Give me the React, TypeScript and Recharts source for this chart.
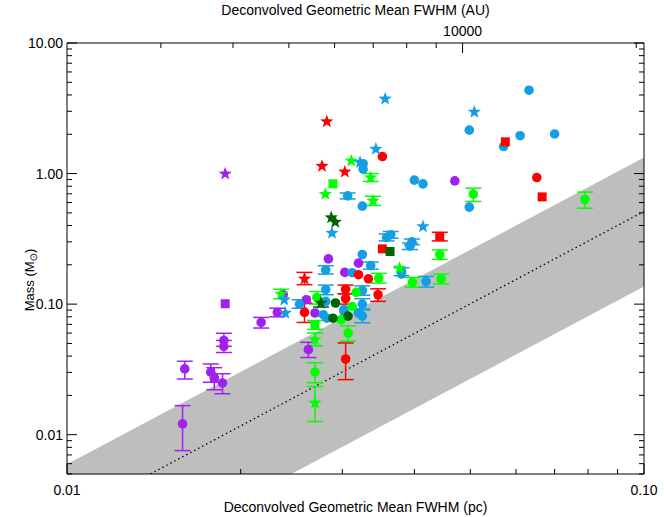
import React from 'react';
import { ComposedChart, Scatter, Area, Line, XAxis, YAxis, ErrorBar } from 'recharts';

// [size (pc), mass (Msun), err low, err high] -- err values are absolute masses, 0 = none
type Pt = [number, number, number?, number?];

const purpleCircles: Pt[] = [
  [0.01586, 0.0121, 0.00755, 0.0167],
  [0.016, 0.0319, 0.0267, 0.0365],
  [0.01775, 0.0301, 0.0252, 0.0348],
  [0.018, 0.0272, 0.0221, 0.0326],
  [0.0186, 0.0249, 0.0206, 0.0293],
  [0.0187, 0.0527, 0.0475, 0.0598],
  [0.0187, 0.0475, 0.0426, 0.0527],
  [0.0217, 0.0724, 0.0656, 0.0791],
  [0.02315, 0.0864, 0.08, 0.093],
  [0.0237, 0.118],
  [0.026, 0.108],
  [0.0262, 0.0448, 0.039, 0.051],
  [0.0269, 0.0855],
  [0.02838, 0.222],
  [0.0303, 0.175],
  [0.032, 0.206],
  [0.047, 0.879],
];
const purpleSquares: Pt[] = [[0.0188, 0.1007]];
const purpleStars: Pt[] = [[0.0188, 0.995]];

const blueCircles: Pt[] = [
  [0.03065, 0.675, 0.64, 0.71],
  [0.0326, 1.19],
  [0.0326, 1.08],
  [0.04, 0.89],
  [0.0414, 0.834],
  [0.0325, 0.563],
  [0.0358, 0.324, 0.305, 0.345],
  [0.0364, 0.34, 0.32, 0.36],
  [0.0396, 0.3, 0.285, 0.315],
  [0.0393, 0.278, 0.262, 0.294],
  [0.0325, 0.24],
  [0.0336, 0.197, 0.185, 0.21],
  [0.0312, 0.174],
  [0.038, 0.178, 0.165, 0.19],
  [0.038, 0.17],
  [0.0419, 0.149, 0.135, 0.163],
  [0.0325, 0.127, 0.117, 0.138],
  [0.0325, 0.1, 0.092, 0.11],
  [0.0302, 0.091],
  [0.032, 0.0855],
  [0.0325, 0.081, 0.072, 0.09],
  [0.02808, 0.183, 0.17, 0.197],
  [0.02808, 0.129, 0.118, 0.14],
  [0.02808, 0.105],
  [0.0253, 0.1, 0.093, 0.108],
  [0.0278, 0.083],
  [0.0282, 0.078],
  [0.0302, 0.088],
  [0.0632, 4.35],
  [0.0498, 2.15],
  [0.0571, 1.61],
  [0.061, 1.95],
  [0.07, 2.01],
  [0.0498, 0.553],
];
const blueStars: Pt[] = [
  [0.0356, 3.73],
  [0.0343, 1.54],
  [0.0322, 1.22],
  [0.0414, 0.393],
  [0.02879, 0.35],
  [0.0508, 2.96],
  [0.0238, 0.108],
  [0.0239, 0.0855],
];

const redCircles: Pt[] = [
  [0.0352, 1.35],
  [0.0333, 0.156],
  [0.032, 0.168],
  [0.0304, 0.13, 0.12, 0.14],
  [0.0304, 0.11, 0.1, 0.12],
  [0.0346, 0.118, 0.105, 0.131],
  [0.0258, 0.0864, 0.0724, 0.102],
  [0.0304, 0.038, 0.0264, 0.0504],
  [0.0652, 0.932],
];
const redSquares: Pt[] = [
  [0.04426, 0.33, 0.305, 0.355],
  [0.0352, 0.265],
  [0.0575, 1.75],
  [0.0666, 0.663],
];
const redStars: Pt[] = [
  [0.0282, 2.5],
  [0.02767, 1.14],
  [0.0303, 1.03],
  [0.0258, 0.156, 0.141, 0.175],
];

const greenCircles: Pt[] = [
  [0.0506, 0.696, 0.611, 0.773],
  [0.079, 0.633, 0.543, 0.721],
  [0.04426, 0.239, 0.22, 0.26],
  [0.0347, 0.158, 0.145, 0.172],
  [0.0397, 0.1476, 0.135, 0.16],
  [0.0445, 0.156, 0.143, 0.17],
  [0.0317, 0.123],
  [0.0312, 0.096],
  [0.0271, 0.1125, 0.1, 0.125],
  [0.0307, 0.06, 0.052, 0.068],
  [0.02985, 0.076],
  [0.0269, 0.0301, 0.025, 0.0356],
];
const greenSquares: Pt[] = [
  [0.0289, 0.834],
  [0.0269, 0.0695, 0.064, 0.075],
];
const greenStars: Pt[] = [
  [0.0311, 1.25],
  [0.02804, 0.695],
  [0.0336, 0.932, 0.87, 1.0],
  [0.0339, 0.618, 0.57, 0.67],
  [0.0377, 0.189],
  [0.0235, 0.1195, 0.11, 0.13],
  [0.0269, 0.0534, 0.048, 0.06],
  [0.0269, 0.0175, 0.0126, 0.0234],
];

const darkGreenStars: Pt[] = [
  [0.0287, 0.46],
  [0.02917, 0.425],
  [0.02755, 0.102, 0.095, 0.11],
];
const darkGreenSquares: Pt[] = [[0.0363, 0.253]];
const darkGreenCircles: Pt[] = [
  [0.0292, 0.102],
  [0.0289, 0.078],
  [0.0307, 0.081],
];

// shaded band and dotted relation, sampled at the x-axis ends
const bandX = [0.01, 0.1];
const bandLow = [0.00061, 0.1365];
const bandHigh = [0.00594, 1.33];
const relation = [0.00229, 0.513];

// ticks
const xTicks = [0.01, 0.02, 0.03, 0.04, 0.05, 0.06, 0.07, 0.08, 0.09, 0.1];
const xMajor = [0.01, 0.1];
const xMajorLabels = ['0.01', '0.10'];
const auTicks = [3000, 4000, 5000, 6000, 7000, 8000, 9000, 10000, 20000];
const auMajor = [10000];
const yTicks = [
  0.005, 0.006, 0.007, 0.008, 0.009,
  0.01, 0.02, 0.03, 0.04, 0.05, 0.06, 0.07, 0.08, 0.09,
  0.1, 0.2, 0.3, 0.4, 0.5, 0.6, 0.7, 0.8, 0.9,
  1, 2, 3, 4, 5, 6, 7, 8, 9, 10,
];
const yMajor = [0.01, 0.1, 1, 10];
const yMajorLabels = ['0.01', '0.10', '1.00', '10.00'];

const AU_IN_PC = 206265;
const FONT = '"Liberation Sans", Arial, sans-serif';
const PURPLE = '#A020F0';
const BLUE = '#149FE4';
const RED = '#FF0000';
const GREEN = '#00FF00';
const DARK_GREEN = '#006400';

const same = (a: number, b: number) => Math.abs(a - b) / b < 1e-6;
const majorIndex = (v: number, list: number[]) => list.findIndex(t => same(v, t));

const rows = (pts: Pt[]) =>
  pts.map(([x, m, lo, hi]) => ({ x, m, err: lo && hi ? [m - lo, hi - m] : undefined }));

const bandData = bandX.map((x, i) => ({ x, band: [bandLow[i], bandHigh[i]], rel: relation[i] }));

const starPath = (cx: number, cy: number, R: number, r: number) => {
  let d = '';
  for (let i = 0; i < 10; i++) {
    const a = (-90 + i * 36) * Math.PI / 180;
    const rad = i % 2 === 0 ? R : r;
    d += (i === 0 ? 'M' : 'L') + (cx + rad * Math.cos(a)).toFixed(2) + ',' + (cy + rad * Math.sin(a)).toFixed(2);
  }
  return d + 'Z';
};

const makeShape = (kind: string, color: string) => (p: any) => {
  const { cx, cy } = p;
  if (kind === 'star') return <path d={starPath(cx, cy, 7, 2.9)} fill={color} />;
  if (kind === 'square') return <rect x={cx - 4.5} y={cy - 4.5} width={9} height={9} fill={color} />;
  return <circle cx={cx} cy={cy} r={4.8} fill={color} />;
};

const groups = [
  { name: 'pc', pts: purpleCircles, kind: 'circle', color: PURPLE },
  { name: 'ps', pts: purpleSquares, kind: 'square', color: PURPLE },
  { name: 'pst', pts: purpleStars, kind: 'star', color: PURPLE },
  { name: 'bc', pts: blueCircles, kind: 'circle', color: BLUE },
  { name: 'gc', pts: greenCircles, kind: 'circle', color: GREEN },
  { name: 'gs', pts: greenSquares, kind: 'square', color: GREEN },
  { name: 'rc', pts: redCircles, kind: 'circle', color: RED },
  { name: 'rs', pts: redSquares, kind: 'square', color: RED },
  { name: 'dgc', pts: darkGreenCircles, kind: 'circle', color: DARK_GREEN },
  { name: 'dgs', pts: darkGreenSquares, kind: 'square', color: DARK_GREEN },
  { name: 'gst', pts: greenStars, kind: 'star', color: GREEN },
  { name: 'bst', pts: blueStars, kind: 'star', color: BLUE },
  { name: 'rst', pts: redStars, kind: 'star', color: RED },
  { name: 'dgst', pts: darkGreenStars, kind: 'star', color: DARK_GREEN },
];

const MAJOR_LEN = 10;
const MINOR_LEN = 5;

const BottomTick = (props: any) => {
  const { x, y, payload } = props;
  const i = majorIndex(payload.value, xMajor);
  return (
    <g>
      <line x1={x} x2={x} y1={y} y2={y - (i >= 0 ? MAJOR_LEN : MINOR_LEN)} stroke="#000" />
      {i >= 0 && (
        <text x={x} y={y + 21} textAnchor="middle" fontSize={14} fontFamily={FONT} fill="#000">
          {xMajorLabels[i]}
        </text>
      )}
    </g>
  );
};

const TopTick = (props: any) => {
  const { x, y, payload } = props;
  const au = payload.value * AU_IN_PC;
  const major = auMajor.some(t => same(au, t));
  return (
    <g>
      <line x1={x} x2={x} y1={y} y2={y + (major ? MAJOR_LEN : MINOR_LEN)} stroke="#000" />
      {major && (
        <text x={x} y={y - 7} textAnchor="middle" fontSize={14} fontFamily={FONT} fill="#000">
          {Math.round(au)}
        </text>
      )}
    </g>
  );
};

const LeftTick = (props: any) => {
  const { x, y, payload } = props;
  const i = majorIndex(payload.value, yMajor);
  return (
    <g>
      <line x1={x} x2={x + (i >= 0 ? MAJOR_LEN : MINOR_LEN)} y1={y} y2={y} stroke="#000" />
      {i >= 0 && (
        <text x={x - 4} y={y} dy="0.36em" textAnchor="end" fontSize={14} fontFamily={FONT} fill="#000">
          {yMajorLabels[i]}
        </text>
      )}
    </g>
  );
};

const RightTick = (props: any) => {
  const { x, y, payload } = props;
  const major = majorIndex(payload.value, yMajor) >= 0;
  return <line x1={x} x2={x - (major ? MAJOR_LEN : MINOR_LEN)} y1={y} y2={y} stroke="#000" />;
};

export default function App() {
  const W = 664;
  const H = 517;
  return (
    <div style={{ position: 'absolute', left: 0, top: 0, width: W, height: H, background: '#fff' }}>
      <ComposedChart width={W} height={H} margin={{ top: 0, right: 0, bottom: 0, left: 0 }}>
        <XAxis
          xAxisId="bottom"
          dataKey="x"
          type="number"
          scale="log"
          domain={[0.01, 0.1]}
          allowDataOverflow
          ticks={xTicks}
          interval={0}
          height={43}
          tickSize={0}
          tickMargin={0}
          tickLine={false}
          tick={<BottomTick />}
          axisLine={{ stroke: '#000' }}
        />
        <XAxis
          xAxisId="top"
          orientation="top"
          dataKey="x"
          type="number"
          scale="log"
          domain={[0.01, 0.1]}
          allowDataOverflow
          ticks={auTicks.map(a => a / AU_IN_PC)}
          interval={0}
          height={43}
          tickSize={0}
          tickMargin={0}
          tickLine={false}
          tick={<TopTick />}
          axisLine={{ stroke: '#000' }}
        />
        <YAxis
          yAxisId="left"
          dataKey="m"
          type="number"
          scale="log"
          domain={[0.005, 10]}
          allowDataOverflow
          ticks={yTicks}
          interval={0}
          width={67}
          tickSize={0}
          tickMargin={0}
          tickLine={false}
          tick={<LeftTick />}
          axisLine={{ stroke: '#000' }}
        />
        <YAxis
          yAxisId="right"
          orientation="right"
          dataKey="m"
          type="number"
          scale="log"
          domain={[0.005, 10]}
          allowDataOverflow
          ticks={yTicks}
          interval={0}
          width={20}
          tickSize={0}
          tickMargin={0}
          tickLine={false}
          tick={<RightTick />}
          axisLine={{ stroke: '#000' }}
        />
        <Area
          data={bandData}
          xAxisId="top"
          yAxisId="left"
          dataKey="band"
          type="linear"
          fill="#BEBEBE"
          fillOpacity={1}
          stroke="none"
          isAnimationActive={false}
        />
        <Line
          data={bandData}
          xAxisId="top"
          yAxisId="right"
          dataKey="rel"
          type="linear"
          stroke="#000"
          strokeWidth={1.3}
          strokeDasharray="1.5 3"
          dot={false}
          isAnimationActive={false}
        />
        {groups.map(g => (
          <Scatter
            key={g.name}
            data={rows(g.pts)}
            xAxisId="bottom"
            yAxisId="left"
            dataKey="m"
            fill={g.color}
            shape={makeShape(g.kind, g.color)}
            isAnimationActive={false}
          >
            <ErrorBar dataKey="err" direction="y" width={8} stroke={g.color} strokeWidth={1.5} />
          </Scatter>
        ))}
      </ComposedChart>
      <svg width={W} height={H} style={{ position: 'absolute', left: 0, top: 0, pointerEvents: 'none' }}>
        <text x={355.5} y={15} textAnchor="middle" fontSize={14} fontFamily={FONT} fill="#000">
          Deconvolved Geometric Mean FWHM (AU)
        </text>
        <text x={355.5} y={512} textAnchor="middle" fontSize={14} fontFamily={FONT} fill="#000">
          Deconvolved Geometric Mean FWHM (pc)
        </text>
        <text
          x={29}
          y={280}
          transform="rotate(-90 29 280)"
          textAnchor="middle"
          dy="0.35em"
          fontSize={13}
          fontFamily={FONT}
          fill="#000"
        >
          Mass (M<tspan dy={3} fontSize={10} fontFamily="DejaVu Sans">⊙</tspan><tspan dy={-3}>)</tspan>
        </text>
      </svg>
    </div>
  );
}
